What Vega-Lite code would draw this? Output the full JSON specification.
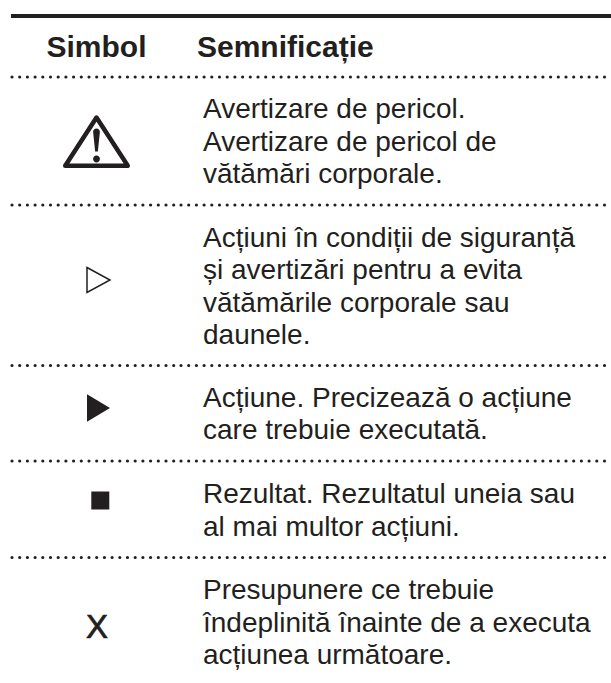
{
"$schema":"https://vega.github.io/schema/vega-lite/v6.json",
"width":611,"height":683,"padding":0,
"autosize":{"type":"fit","contains":"padding"},
"background":"white",
"view":{"stroke":null},
"config":{"axis":{"grid":false}},
"datasets":{
"lines":[{"x0":11,"x1":611,"y":16}],
"dots":[
{"x0":12,"x1":175,"y":77},{"x0":181,"x1":611,"y":77},
{"x0":12,"x1":175,"y":205},{"x0":181,"x1":611,"y":205},
{"x0":12,"x1":175,"y":365.5},{"x0":181,"x1":611,"y":365.5},
{"x0":12,"x1":175,"y":461},{"x0":181,"x1":611,"y":461},
{"x0":12,"x1":175,"y":557.5},{"x0":181,"x1":611,"y":557.5}],
"head":[{"x":96.5,"y":57,"t":"Simbol","a":"c"},{"x":197,"y":57,"t":"Semnificație","a":"l"}],
"body":[
{"x":203,"y":118,"t":"Avertizare de pericol."},
{"x":203,"y":151,"t":"Avertizare de pericol de"},
{"x":203,"y":183,"t":"vătămări corporale."},
{"x":203,"y":247,"t":"Acțiuni în condiții de siguranță"},
{"x":203,"y":279,"t":"și avertizări pentru a evita"},
{"x":203,"y":312,"t":"vătămările corporale sau"},
{"x":203,"y":344,"t":"daunele."},
{"x":203,"y":407,"t":"Acțiune. Precizează o acțiune"},
{"x":203,"y":439,"t":"care trebuie executată."},
{"x":203,"y":503,"t":"Rezultat. Rezultatul uneia sau"},
{"x":203,"y":536,"t":"al mai multor acțiuni."},
{"x":203,"y":599,"t":"Presupunere ce trebuie"},
{"x":203,"y":632,"t":"îndeplinită înainte de a executa"},
{"x":203,"y":664,"t":"acțiunea următoare."}],
"sym":[
{"x":96.5,"y":142,"k":"warnOutline"},
{"x":96.5,"y":142,"k":"warnMark"},
{"x":98.5,"y":280,"k":"open"},
{"x":98.5,"y":408,"k":"solid"},
{"x":100.3,"y":500.5,"k":"square"}],
"xmark":[{"x":97,"y":638,"t":"X"}]
},
"encoding":{
"x":{"field":"x","type":"quantitative","scale":{"domain":[0,611],"range":[0,611]},"axis":null},
"y":{"field":"y","type":"quantitative","scale":{"domain":[0,683],"range":[0,683]},"axis":null}
},
"layer":[
{"data":{"name":"lines"},"mark":{"type":"rule","stroke":"#231f20","strokeWidth":4},
 "encoding":{"x":{"field":"x0","type":"quantitative","scale":{"domain":[0,611],"range":[0,611]},"axis":null},"x2":{"field":"x1"}}},
{"data":{"name":"dots"},"mark":{"type":"rule","stroke":"#231f20","strokeWidth":3.2,"strokeCap":"round","strokeDash":[0,7.7]},
 "encoding":{"x":{"field":"x0","type":"quantitative","scale":{"domain":[0,611],"range":[0,611]},"axis":null},"x2":{"field":"x1"}}},
{"data":{"name":"head"},"transform":[{"filter":"datum.a=='c'"}],"mark":{"type":"text","font":"Liberation Sans","fontWeight":"bold","fontSize":30,"align":"center","baseline":"alphabetic","fill":"#231f20"},"encoding":{"text":{"field":"t"}}},
{"data":{"name":"head"},"transform":[{"filter":"datum.a=='l'"}],"mark":{"type":"text","font":"Liberation Sans","fontWeight":"bold","fontSize":30,"align":"left","baseline":"alphabetic","fill":"#231f20"},"encoding":{"text":{"field":"t"}}},
{"data":{"name":"body"},"mark":{"type":"text","font":"Liberation Sans","fontSize":28,"align":"left","baseline":"alphabetic","fill":"#231f20"},"encoding":{"text":{"field":"t"}}},
{"data":{"name":"xmark"},"mark":{"type":"text","font":"Liberation Sans","fontSize":33,"align":"center","baseline":"alphabetic","fill":"#231f20","stroke":"#231f20","strokeWidth":0.7},"encoding":{"text":{"field":"t"}}},
{"data":{"name":"sym"},"transform":[{"filter":"datum.k=='warnOutline'"}],"mark":{"type":"point","filled":false,"stroke":"#231f20","strokeWidth":4.5,"strokeJoin":"round","opacity":1,"size":4624,"shape":"M-0.92,0.7L0,-0.72L0.92,0.7Z"}},
{"data":{"name":"sym"},"transform":[{"filter":"datum.k=='warnMark'"}],"mark":{"type":"point","filled":true,"fill":"#231f20","opacity":1,"size":4624,"shape":"M-0.1,-0.3A0.1,0.1 0 0 1 0.1,-0.3L0.04,0.28L-0.04,0.28ZM-0.1,0.5A0.1,0.1 0 1 0 0.1,0.5A0.1,0.1 0 1 0 -0.1,0.5Z"}},
{"data":{"name":"sym"},"transform":[{"filter":"datum.k=='open'"}],"mark":{"type":"point","filled":false,"stroke":"#231f20","strokeWidth":1.5,"opacity":1,"size":625,"shape":"M-0.92,-1L0.92,0L-0.92,1Z"}},
{"data":{"name":"sym"},"transform":[{"filter":"datum.k=='solid'"}],"mark":{"type":"point","filled":true,"fill":"#231f20","opacity":1,"size":625,"shape":"M-0.92,-1.1L0.92,0L-0.92,1.1Z"}},
{"data":{"name":"sym"},"transform":[{"filter":"datum.k=='square'"}],"mark":{"type":"point","filled":true,"fill":"#231f20","opacity":1,"size":324,"shape":"M-1,-1L1,-1L1,1L-1,1Z"}}
]
}
